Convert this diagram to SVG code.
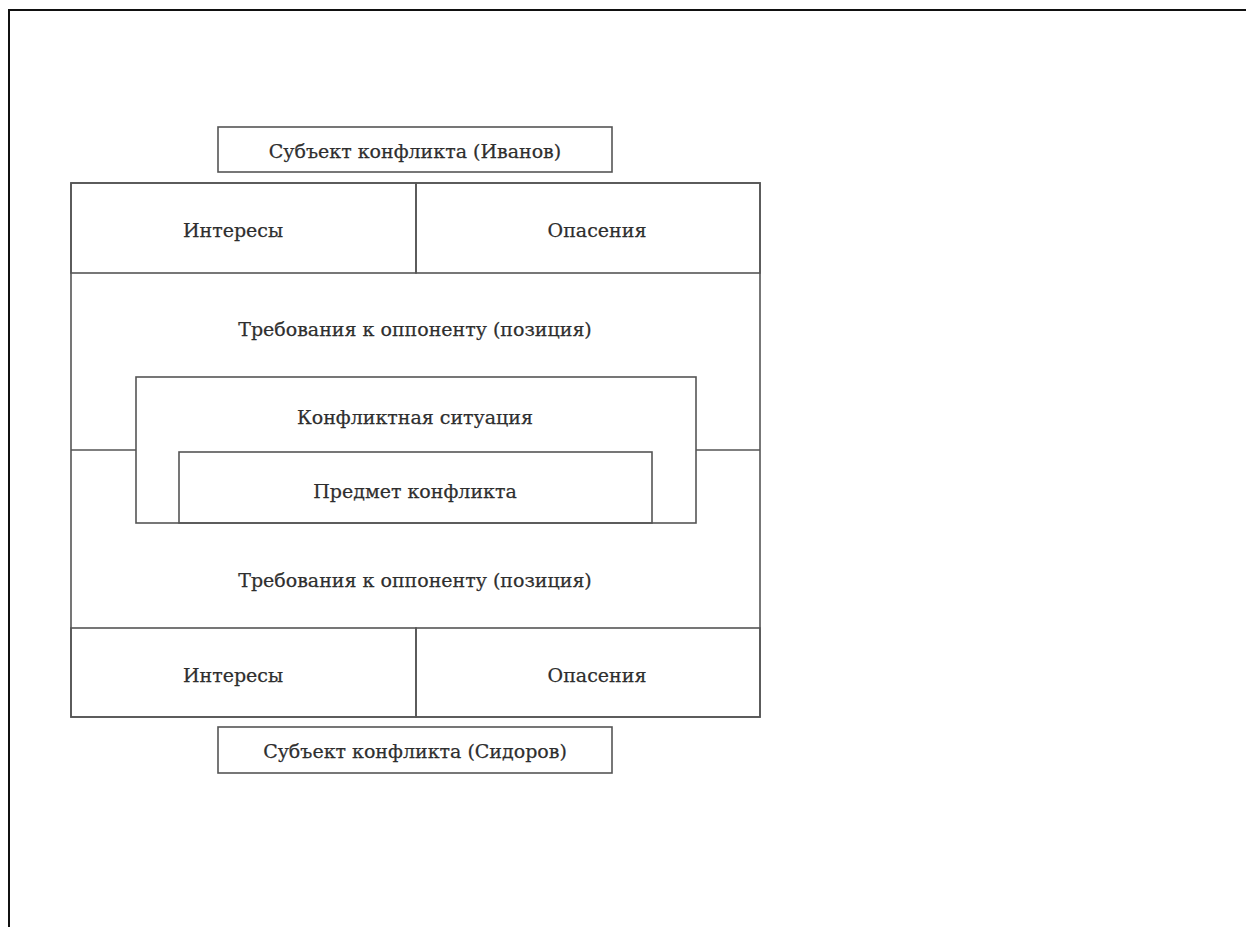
<svg xmlns="http://www.w3.org/2000/svg" width="1246" height="927" viewBox="0 0 1246 927">
<style>
.b{fill:none;stroke:#555;stroke-width:1.6}
.t{font-family:"DejaVu Serif","Liberation Serif",serif;font-size:19px;fill:#2e2e2e;stroke:#2e2e2e;stroke-width:0.25;text-anchor:middle;dominant-baseline:central}
.f{stroke:#111;stroke-width:2;fill:none}
</style>
<rect width="1246" height="927" fill="#fff"/>
<path class="f" d="M9 927 V10 H1246"/>
<g id="subject-top"><rect class="b" x="218" y="127" width="394" height="45"/><text class="t" x="415" y="151">Субъект конфликта (Иванов)</text></g>
<g id="outer"><rect class="b" x="71" y="183" width="689" height="534"/></g>
<g id="interests-top"><rect class="b" x="71" y="183" width="345" height="90"/><text class="t" x="233" y="230">Интересы</text></g>
<g id="fears-top"><rect class="b" x="416" y="183" width="344" height="90"/><text class="t" x="597" y="230">Опасения</text></g>
<g id="demands-top"><text class="t" x="415" y="329">Требования к оппоненту (позиция)</text></g>
<g id="connectors"><path class="b" d="M71 450 H136 M696 450 H760"/></g>
<g id="situation"><rect class="b" x="136" y="377" width="560" height="146"/><text class="t" x="415" y="417">Конфликтная ситуация</text></g>
<g id="subject-matter"><rect class="b" x="179" y="452" width="473" height="71"/><text class="t" x="415" y="491">Предмет конфликта</text></g>
<g id="demands-bottom"><text class="t" x="415" y="580">Требования к оппоненту (позиция)</text></g>
<g id="interests-bottom"><rect class="b" x="71" y="628" width="345" height="89"/><text class="t" x="233" y="675">Интересы</text></g>
<g id="fears-bottom"><rect class="b" x="416" y="628" width="344" height="89"/><text class="t" x="597" y="675">Опасения</text></g>
<g id="subject-bottom"><rect class="b" x="218" y="727" width="394" height="46"/><text class="t" x="415" y="751">Субъект конфликта (Сидоров)</text></g>
</svg>
